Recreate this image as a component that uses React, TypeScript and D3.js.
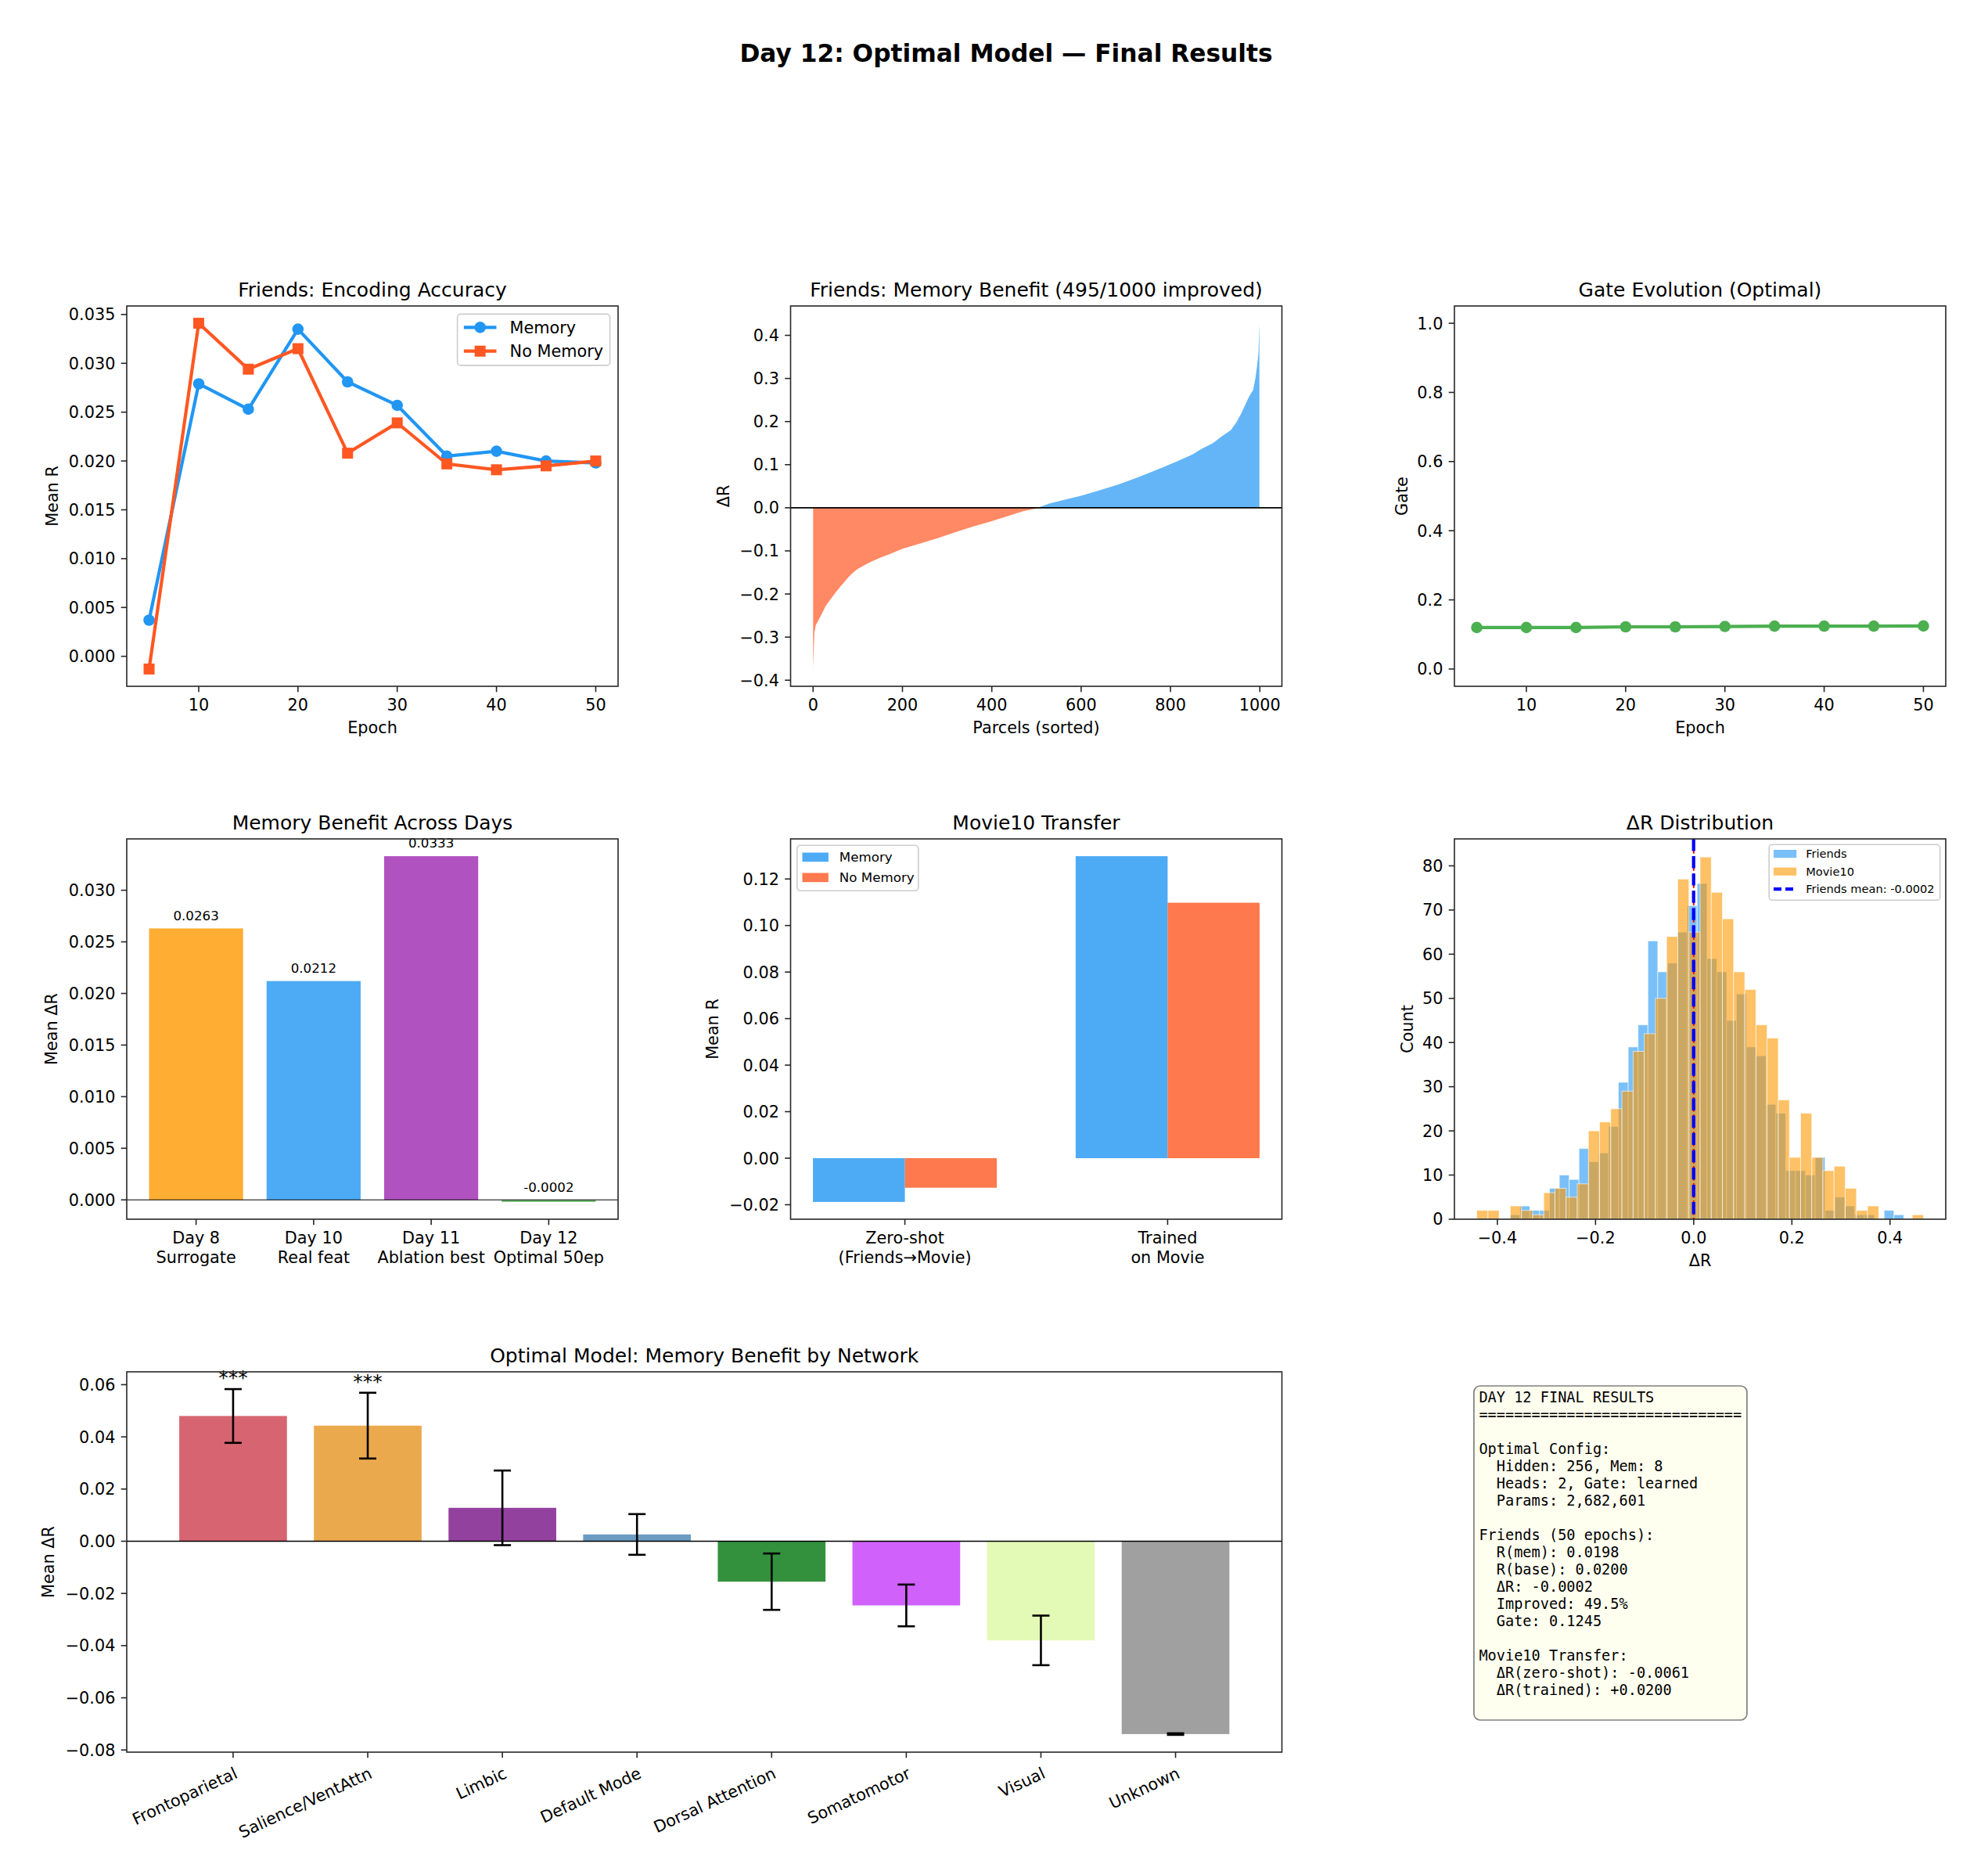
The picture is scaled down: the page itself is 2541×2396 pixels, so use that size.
import * as d3 from "d3";

const W = 2541;
const H = 2396;
const SANS = "'DejaVu Sans', Verdana, sans-serif";
const MONO = "'DejaVu Sans Mono', monospace";
const INK = "#262626";
const FS = 20.8; // 10pt @150dpi

// axes boxes of the 3x3 grid
const COL_X = [162, 1010.5, 1859];
const ROW_Y = [391, 1072, 1753];
const PW = 628;
const PH = 486;

// ---- Friends: encoding accuracy
const epochs = [5, 10, 15, 20, 25, 30, 35, 40, 45, 50];
const memoryR = [0.0037, 0.0279, 0.0253, 0.0335, 0.0281, 0.0257, 0.0205, 0.021, 0.02, 0.0198];
const noMemoryR = [-0.0013, 0.0341, 0.0294, 0.0315, 0.0208, 0.0239, 0.0197, 0.0191, 0.0195, 0.02];
const encTicks = [0, 0.005, 0.01, 0.015, 0.02, 0.025, 0.03, 0.035];
const epochTicks = [10, 20, 30, 40, 50];

// ---- sorted per-parcel benefit
const parcelRank = [0, 1, 3, 6, 10, 15, 20, 28, 35, 42, 50, 60, 70, 80, 90, 100, 115, 130, 150, 175, 200, 240, 280, 320, 360, 400, 440, 470, 504, 505, 530, 560, 600, 640, 680, 720, 760, 790, 820, 850, 870, 895, 915, 935, 948, 958, 967, 976, 985, 990, 994, 997, 999];
const parcelDelta = [-0.374, -0.34, -0.29, -0.272, -0.265, -0.255, -0.245, -0.228, -0.218, -0.208, -0.197, -0.184, -0.172, -0.16, -0.15, -0.142, -0.133, -0.125, -0.116, -0.106, -0.095, -0.083, -0.07, -0.056, -0.043, -0.031, -0.018, -0.008, -0.0005, 0.0005, 0.01, 0.018, 0.028, 0.04, 0.053, 0.068, 0.084, 0.097, 0.11, 0.124, 0.137, 0.15, 0.166, 0.18, 0.199, 0.218, 0.238, 0.258, 0.273, 0.3, 0.33, 0.36, 0.428];
const parcelTicks = [0, 200, 400, 600, 800, 1000];
const deltaTicks = [-0.4, -0.3, -0.2, -0.1, 0, 0.1, 0.2, 0.3, 0.4];

// ---- gate evolution
const gateValues = [0.12, 0.12, 0.12, 0.122, 0.122, 0.123, 0.124, 0.124, 0.124, 0.1245];
const gateTicks = [0, 0.2, 0.4, 0.6, 0.8, 1.0];

// ---- across days
const dayNames = [["Day 8", "Surrogate"], ["Day 10", "Real feat"], ["Day 11", "Ablation best"], ["Day 12", "Optimal 50ep"]];
const dayBenefit = [0.0263, 0.0212, 0.0333, -0.0002];
const dayColors = ["#FF9800", "#2196F3", "#9C27B0", "#4CAF50"];
const dayTicks = [0, 0.005, 0.01, 0.015, 0.02, 0.025, 0.03];

// ---- Movie10 transfer
const transferNames = [["Zero-shot", "(Friends\u2192Movie)"], ["Trained", "on Movie"]];
const transferMemory = [-0.0188, 0.1298];
const transferNoMemory = [-0.0127, 0.1098];
const transferTicks = [-0.02, 0, 0.02, 0.04, 0.06, 0.08, 0.1, 0.12];

// ---- delta R histograms (40 bins each)
const friendsBinStart = -0.374;
const friendsBinWidth = 0.02005;
const friendsCounts = [1, 3, 2, 2, 7, 10, 9, 16, 13, 15, 21, 31, 39, 44, 63, 56, 58, 65, 71, 76, 59, 56, 45, 51, 39, 37, 26, 24, 11, 11, 10, 14, 2, 5, 3, 1, 1, 0, 2, 1];
const movieBinStart = -0.442;
const movieBinWidth = 0.02275;
const movieCounts = [2, 2, 0, 3, 2, 1, 6, 7, 5, 8, 20, 22, 25, 29, 38, 42, 50, 64, 77, 65, 82, 74, 68, 56, 52, 44, 41, 27, 14, 24, 14, 11, 12, 7, 2, 3, 0, 0, 0, 1];
const friendsMean = -0.0002;
const histXTicks = [-0.4, -0.2, 0, 0.2, 0.4];
const histYTicks = [0, 10, 20, 30, 40, 50, 60, 70, 80];

// ---- by network
const networks = ["Frontoparietal", "Salience/VentAttn", "Limbic", "Default Mode", "Dorsal Attention", "Somatomotor", "Visual", "Unknown"];
const networkMean = [0.048, 0.0443, 0.0128, 0.0026, -0.0155, -0.0246, -0.038, -0.0739];
const networkSem = [0.0103, 0.0126, 0.0143, 0.0078, 0.0108, 0.008, 0.0095, 0.0003];
const networkStars = ["***", "***", "", "", "", "", "", ""];
const networkColors = ["#CD3E4E", "#E69422", "#781286", "#4682B4", "#00760E", "#C43AFA", "#DCF8A4", "#888888"];
const networkTicks = [-0.08, -0.06, -0.04, -0.02, 0, 0.02, 0.04, 0.06];

const summaryLines = [
  "DAY 12 FINAL RESULTS",
  "==============================",
  "",
  "Optimal Config:",
  "  Hidden: 256, Mem: 8",
  "  Heads: 2, Gate: learned",
  "  Params: 2,682,601",
  "",
  "Friends (50 epochs):",
  "  R(mem): 0.0198",
  "  R(base): 0.0200",
  "  \u0394R: -0.0002",
  "  Improved: 49.5%",
  "  Gate: 0.1245",
  "",
  "Movie10 Transfer:",
  "  \u0394R(zero-shot): -0.0061",
  "  \u0394R(trained): +0.0200",
  "",
];

const BLUE = "#2196F3";
const RED = "#FF5722";
const GREEN = "#4CAF50";
const ORANGE = "#FF9800";

type Box = { x: number; y: number; w: number; h: number };
const cell = (c: number, r: number, span = 1): Box => ({
  x: COL_X[c],
  y: ROW_Y[r],
  w: COL_X[c + span - 1] + PW - COL_X[c],
  h: PH,
});
const pad5 = (lo: number, hi: number): [number, number] => {
  const d = (hi - lo) * 0.05;
  return [lo - d, hi + d];
};

function YTicks({ b, y, ticks, fmt }: any) {
  return (
    <g>
      {ticks.map((t: number) => (
        <g key={t}>
          <line x1={b.x} x2={b.x - 7.3} y1={y(t)} y2={y(t)} stroke={INK} strokeWidth={1.6} />
          <text x={b.x - 14.6} y={y(t)} dy="0.36em" textAnchor="end" fontSize={FS}>
            {fmt(t)}
          </text>
        </g>
      ))}
    </g>
  );
}

function XTicks({ b, x, ticks, labels }: any) {
  return (
    <g>
      {ticks.map((t: number, i: number) => {
        const lines: string[] = labels[i];
        return (
          <g key={i}>
            <line x1={x(t)} x2={x(t)} y1={b.y + b.h} y2={b.y + b.h + 7.3} stroke={INK} strokeWidth={1.6} />
            <text y={b.y + b.h + 31} textAnchor="middle" fontSize={FS}>
              {lines.map((l, j) => (
                <tspan key={j} x={x(t)} dy={j === 0 ? 0 : 24.5}>
                  {l}
                </tspan>
              ))}
            </text>
          </g>
        );
      })}
    </g>
  );
}

function Decor({ b, title, xLabel, yLabel, yOff }: any) {
  return (
    <g>
      <rect x={b.x} y={b.y} width={b.w} height={b.h} fill="none" stroke={INK} strokeWidth={1.6} />
      <text x={b.x + b.w / 2} y={b.y - 12.5} textAnchor="middle" fontSize={25}>
        {title}
      </text>
      {xLabel && (
        <text x={b.x + b.w / 2} y={b.y + b.h + 60} textAnchor="middle" fontSize={FS}>
          {xLabel}
        </text>
      )}
      {yLabel && (
        <text transform={`translate(${b.x - yOff + 7},${b.y + b.h / 2}) rotate(-90)`} textAnchor="middle" fontSize={FS}>
          {yLabel}
        </text>
      )}
    </g>
  );
}

const f3 = d3.format(".3f");
const f2 = d3.format(".2f");
const f1 = d3.format(".1f");
const fd = d3.format("d");

function EncodingPanel() {
  const b = cell(0, 0);
  const x = d3.scaleLinear(pad5(d3.min(epochs)!, d3.max(epochs)!), [b.x, b.x + b.w]);
  const all = [...memoryR, ...noMemoryR];
  const y = d3.scaleLinear(pad5(d3.min(all)!, d3.max(all)!), [b.y + b.h, b.y]);
  const line = d3.line<number>().x((_, i) => x(epochs[i])).y((d) => y(d));
  const lx = b.x + b.w - 10.4 - 195;
  const ly = b.y + 10.4;
  return (
    <g>
      <path d={line(memoryR)!} fill="none" stroke={BLUE} strokeWidth={4.2} />
      {memoryR.map((v, i) => (
        <circle key={i} cx={x(epochs[i])} cy={y(v)} r={7.3} fill={BLUE} />
      ))}
      <path d={line(noMemoryR)!} fill="none" stroke={RED} strokeWidth={4.2} />
      {noMemoryR.map((v, i) => (
        <rect key={i} x={x(epochs[i]) - 7} y={y(v) - 7} width={14} height={14} fill={RED} />
      ))}
      <YTicks b={b} y={y} ticks={encTicks} fmt={f3} />
      <XTicks b={b} x={x} ticks={epochTicks} labels={epochTicks.map((t) => [String(t)])} />
      <Decor b={b} title="Friends: Encoding Accuracy" xLabel="Epoch" yLabel="Mean R" yOff={95} />
      <rect x={lx} y={ly} width={195} height={65.5} rx={4} fill="#fff" fillOpacity={0.8} stroke="#ccc" strokeWidth={1.6} />
      {[
        { name: "Memory", c: BLUE, sq: false },
        { name: "No Memory", c: RED, sq: true },
      ].map((e, i) => {
        const cy = ly + 17 + i * 30.3;
        const hx = lx + 8.3;
        return (
          <g key={e.name}>
            <line x1={hx} x2={hx + 41.6} y1={cy} y2={cy} stroke={e.c} strokeWidth={4.2} />
            {e.sq ? (
              <rect x={hx + 20.8 - 7} y={cy - 7} width={14} height={14} fill={e.c} />
            ) : (
              <circle cx={hx + 20.8} cy={cy} r={7.3} fill={e.c} />
            )}
            <text x={lx + 67} y={cy} dy="0.36em" fontSize={FS}>
              {e.name}
            </text>
          </g>
        );
      })}
    </g>
  );
}

function ParcelPanel() {
  const b = cell(1, 0);
  const x = d3.scaleLinear(pad5(-0.4, 999.4), [b.x, b.x + b.w]);
  const y = d3.scaleLinear(pad5(d3.min(parcelDelta)!, d3.max(parcelDelta)!), [b.y + b.h, b.y]);
  const pts = parcelRank.map((r, i) => ({ r, v: parcelDelta[i] }));
  const area = d3
    .area<{ r: number; v: number }>()
    .x((d) => x(d.r))
    .y0(y(0))
    .y1((d) => y(d.v));
  return (
    <g>
      <path d={area(pts.filter((d) => d.v < 0))!} fill={RED} fillOpacity={0.7} />
      <path d={area(pts.filter((d) => d.v > 0))!} fill={BLUE} fillOpacity={0.7} />
      <line x1={b.x} x2={b.x + b.w} y1={y(0)} y2={y(0)} stroke="#000" strokeWidth={1.6} />
      <YTicks b={b} y={y} ticks={deltaTicks} fmt={f1} />
      <XTicks b={b} x={x} ticks={parcelTicks} labels={parcelTicks.map((t) => [String(t)])} />
      <Decor b={b} title="Friends: Memory Benefit (495/1000 improved)" xLabel="Parcels (sorted)" yLabel={"\u0394R"} yOff={86} />
    </g>
  );
}

function GatePanel() {
  const b = cell(2, 0);
  const x = d3.scaleLinear(pad5(d3.min(epochs)!, d3.max(epochs)!), [b.x, b.x + b.w]);
  const y = d3.scaleLinear([-0.05, 1.05], [b.y + b.h, b.y]);
  const line = d3.line<number>().x((_, i) => x(epochs[i])).y((d) => y(d));
  return (
    <g>
      <path d={line(gateValues)!} fill="none" stroke={GREEN} strokeWidth={4.2} />
      {gateValues.map((v, i) => (
        <circle key={i} cx={x(epochs[i])} cy={y(v)} r={7.3} fill={GREEN} />
      ))}
      <YTicks b={b} y={y} ticks={gateTicks} fmt={f1} />
      <XTicks b={b} x={x} ticks={epochTicks} labels={epochTicks.map((t) => [String(t)])} />
      <Decor b={b} title="Gate Evolution (Optimal)" xLabel="Epoch" yLabel="Gate" yOff={67} />
    </g>
  );
}

function DaysPanel() {
  const b = cell(0, 1);
  const idx = dayBenefit.map((_, i) => i);
  const x = d3.scaleLinear(pad5(-0.4, dayBenefit.length - 0.6), [b.x, b.x + b.w]);
  const y = d3.scaleLinear(pad5(Math.min(0, d3.min(dayBenefit)!), d3.max(dayBenefit)!), [b.y + b.h, b.y]);
  return (
    <g>
      {dayBenefit.map((v, i) => (
        <g key={i}>
          <rect
            x={x(i - 0.4)}
            width={x(i + 0.4) - x(i - 0.4)}
            y={y(Math.max(v, 0))}
            height={Math.abs(y(v) - y(0))}
            fill={dayColors[i]}
            fillOpacity={0.8}
          />
          <text x={x(i)} y={y(Math.max(v, 0) + 0.0005) - 4} textAnchor="middle" fontSize={16.7}>
            {v.toFixed(4)}
          </text>
        </g>
      ))}
      <line x1={b.x} x2={b.x + b.w} y1={y(0)} y2={y(0)} stroke="#000" strokeWidth={1.2} />
      <YTicks b={b} y={y} ticks={dayTicks} fmt={f3} />
      <XTicks b={b} x={x} ticks={idx} labels={dayNames} />
      <Decor b={b} title="Memory Benefit Across Days" yLabel={"Mean \u0394R"} yOff={96} />
    </g>
  );
}

function TransferPanel() {
  const b = cell(1, 1);
  const bw = 0.35;
  const x = d3.scaleLinear(pad5(-bw, transferNames.length - 1 + bw), [b.x, b.x + b.w]);
  const all = [...transferMemory, ...transferNoMemory];
  const y = d3.scaleLinear(pad5(d3.min(all)!, d3.max(all)!), [b.y + b.h, b.y]);
  const series = [
    { vals: transferMemory, c: BLUE, off: -bw, name: "Memory" },
    { vals: transferNoMemory, c: RED, off: 0, name: "No Memory" },
  ];
  const lx = b.x + 8.3;
  const ly = b.y + 8.3;
  return (
    <g>
      {series.map((s) =>
        s.vals.map((v, i) => (
          <rect
            key={s.name + i}
            x={x(i + s.off)}
            width={x(i + s.off + bw) - x(i + s.off)}
            y={y(Math.max(v, 0))}
            height={Math.abs(y(v) - y(0))}
            fill={s.c}
            fillOpacity={0.8}
          />
        ))
      )}
      <YTicks b={b} y={y} ticks={transferTicks} fmt={f2} />
      <XTicks b={b} x={x} ticks={transferNames.map((_, i) => i)} labels={transferNames} />
      <Decor b={b} title="Movie10 Transfer" yLabel="Mean R" yOff={100} />
      <rect x={lx} y={ly} width={155} height={58} rx={4} fill="#fff" fillOpacity={0.8} stroke="#ccc" strokeWidth={1.6} />
      {series.map((s, i) => {
        const cy = ly + 15 + i * 26;
        return (
          <g key={s.name}>
            <rect x={lx + 6.7} y={cy - 5.8} width={33.4} height={11.7} fill={s.c} fillOpacity={0.8} />
            <text x={lx + 54} y={cy} dy="0.36em" fontSize={16.7}>
              {s.name}
            </text>
          </g>
        );
      })}
    </g>
  );
}

function HistPanel() {
  const b = cell(2, 1);
  const fEdges = friendsCounts.map((_, i) => friendsBinStart + i * friendsBinWidth);
  const mEdges = movieCounts.map((_, i) => movieBinStart + i * movieBinWidth);
  const lo = Math.min(friendsBinStart, movieBinStart);
  const hi = Math.max(
    friendsBinStart + friendsCounts.length * friendsBinWidth,
    movieBinStart + movieCounts.length * movieBinWidth
  );
  const x = d3.scaleLinear(pad5(lo, hi), [b.x, b.x + b.w]);
  const y = d3.scaleLinear([0, d3.max([...friendsCounts, ...movieCounts])! * 1.05], [b.y + b.h, b.y]);
  const hist = (edges: number[], counts: number[], width: number, c: string) =>
    counts.map((n, i) =>
      n > 0 ? (
        <rect
          key={c + i}
          x={x(edges[i])}
          width={x(edges[i] + width) - x(edges[i])}
          y={y(n)}
          height={y(0) - y(n)}
          fill={c}
          fillOpacity={0.6}
          stroke="#fff"
          strokeOpacity={0.6}
          strokeWidth={1}
        />
      ) : null
    );
  const lx = b.x + b.w - 7.3 - 218.5;
  const ly = b.y + 7.3;
  return (
    <g>
      {hist(fEdges, friendsCounts, friendsBinWidth, BLUE)}
      {hist(mEdges, movieCounts, movieBinWidth, ORANGE)}
      <line x1={x(0)} x2={x(0)} y1={b.y} y2={b.y + b.h} stroke="red" strokeWidth={2} strokeDasharray="7.7 3.3" />
      <line x1={x(friendsMean)} x2={x(friendsMean)} y1={b.y} y2={b.y + b.h} stroke="blue" strokeWidth={4.2} strokeDasharray="15.4 6.7" />
      <YTicks b={b} y={y} ticks={histYTicks} fmt={fd} />
      <XTicks b={b} x={x} ticks={histXTicks} labels={histXTicks.map((t) => [f1(t)])} />
      <Decor b={b} title={"\u0394R Distribution"} xLabel={"\u0394R"} yLabel="Count" yOff={60} />
      <rect x={lx} y={ly} width={218.5} height={71} rx={4} fill="#fff" fillOpacity={0.8} stroke="#ccc" strokeWidth={1.6} />
      {[
        { name: "Friends", c: BLUE, dash: false },
        { name: "Movie10", c: ORANGE, dash: false },
        { name: `Friends mean: ${friendsMean.toFixed(4)}`, c: "blue", dash: true },
      ].map((e, i) => {
        const cy = ly + 11.7 + i * 22.6;
        return (
          <g key={e.name}>
            {e.dash ? (
              <line x1={lx + 5.8} x2={lx + 35} y1={cy} y2={cy} stroke={e.c} strokeWidth={4.2} strokeDasharray="10 5" />
            ) : (
              <rect x={lx + 5.8} y={cy - 5} width={29.2} height={10.2} fill={e.c} fillOpacity={0.6} />
            )}
            <text x={lx + 47} y={cy} dy="0.36em" fontSize={14.6}>
              {e.name}
            </text>
          </g>
        );
      })}
    </g>
  );
}

function NetworkPanel() {
  const b = cell(0, 2, 2);
  const x = d3.scaleLinear(pad5(-0.4, networks.length - 0.6), [b.x, b.x + b.w]);
  const lows = networkMean.map((m, i) => Math.min(0, m - networkSem[i]));
  const highs = networkMean.map((m, i) => Math.max(0, m + networkSem[i]));
  const y = d3.scaleLinear(pad5(d3.min(lows)!, d3.max(highs)!), [b.y + b.h, b.y]);
  const fs = FS;
  const ang = 25;
  const rad = (ang * Math.PI) / 180;
  return (
    <g>
      {networkMean.map((v, i) => (
        <rect
          key={i}
          x={x(i - 0.4)}
          width={x(i + 0.4) - x(i - 0.4)}
          y={y(Math.max(v, 0))}
          height={Math.abs(y(v) - y(0))}
          fill={networkColors[i]}
          fillOpacity={0.8}
        />
      ))}
      <line x1={b.x} x2={b.x + b.w} y1={y(0)} y2={y(0)} stroke="#000" strokeWidth={1.6} />
      {networkMean.map((v, i) => {
        const top = y(v + networkSem[i]);
        const bot = y(v - networkSem[i]);
        const cx = x(i);
        return (
          <g key={i} stroke="#000" strokeWidth={2.6}>
            <line x1={cx} x2={cx} y1={top} y2={bot} />
            <line x1={cx - 11} x2={cx + 11} y1={top} y2={top} />
            <line x1={cx - 11} x2={cx + 11} y1={bot} y2={bot} />
          </g>
        );
      })}
      {networkStars.map((s, i) =>
        s ? (
          <text key={i} x={x(i)} y={y(networkMean[i] + networkSem[i]) - 6} textAnchor="middle" fontSize={25}>
            {s}
          </text>
        ) : null
      )}
      <YTicks b={b} y={y} ticks={networkTicks} fmt={f2} />
      {networks.map((n, i) => {
        const tx = x(i);
        const ax = tx + 9 - 0.236 * fs * Math.sin(rad);
        const ay = b.y + b.h + 14.6 + 0.928 * fs * Math.cos(rad);
        return (
          <g key={n}>
            <line x1={tx} x2={tx} y1={b.y + b.h} y2={b.y + b.h + 7.3} stroke={INK} strokeWidth={1.6} />
            <text transform={`translate(${ax},${ay}) rotate(${-ang})`} textAnchor="end" fontSize={fs}>
              {n}
            </text>
          </g>
        );
      })}
      <Decor b={b} title="Optimal Model: Memory Benefit by Network" yLabel={"Mean \u0394R"} yOff={100} />
    </g>
  );
}

function SummaryBox() {
  const b = cell(2, 2);
  const tx = b.x + 0.05 * b.w;
  const ty = b.y + 0.05 * b.h;
  const lh = 22;
  const fs = 18.6;
  return (
    <g>
      <rect
        x={tx - 6.5}
        y={ty - 6.3}
        width={349}
        height={summaryLines.length * lh + 9}
        rx={8}
        fill="#FFFFF0"
        stroke="#808080"
        strokeWidth={1.7}
      />
      <text fontFamily={MONO} fontSize={fs} xmlSpace="preserve" style={{ whiteSpace: "pre" }}>
        {summaryLines.map((l, i) => (
          <tspan key={i} x={tx} y={ty + 14.4 + i * lh}>
            {l}
          </tspan>
        ))}
      </text>
    </g>
  );
}

export default function App() {
  return (
    <div style={{ position: "absolute", left: 0, top: 0 }}>
      <svg width={W} height={H} style={{ display: "block" }} fontFamily={SANS} fill="#000">
        <rect width={W} height={H} fill="#fff" />
        <text x={1286} y={79} textAnchor="middle" fontSize={31.25} fontWeight="bold">
          Day 12: Optimal Model — Final Results
        </text>
        <EncodingPanel />
        <ParcelPanel />
        <GatePanel />
        <DaysPanel />
        <TransferPanel />
        <HistPanel />
        <NetworkPanel />
        <SummaryBox />
      </svg>
    </div>
  );
}
